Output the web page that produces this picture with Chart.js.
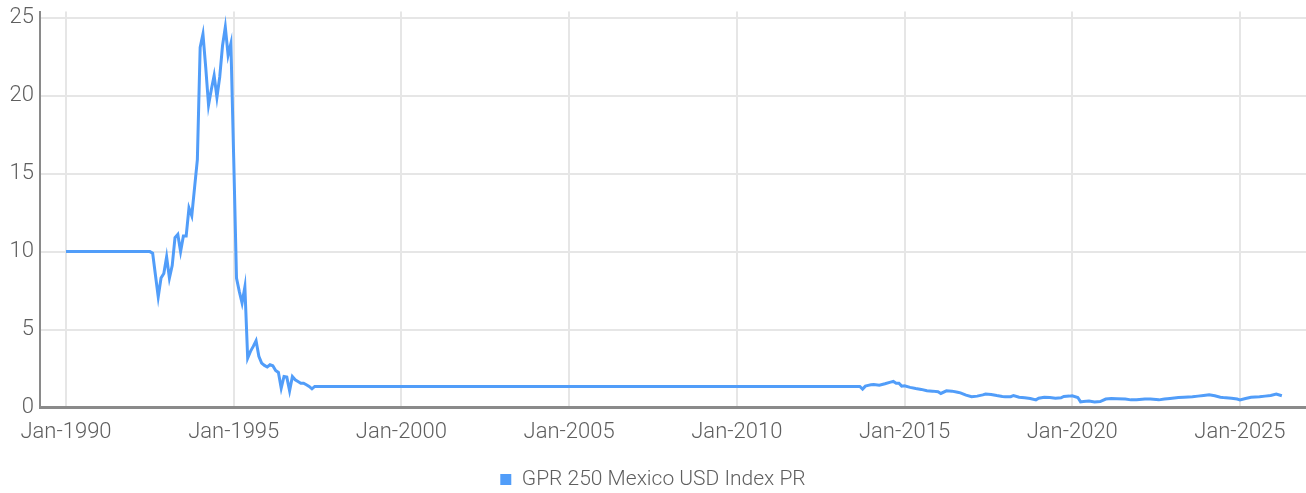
<!DOCTYPE html>
<html lang="en">
<head>
    <meta charset="UTF-8">
    <title>GPR 250 Mexico USD Index PR</title>
    <script src="https://cdn.jsdelivr.net/npm/chart.js"></script>
    <style>
        body {
            margin: 0;
            background: #ffffff;
        }

        #wrap {
            width: 1306px;
            height: 493px;
        }
    </style>
</head>
<body>
    <div id="wrap">
        <canvas id="indexChart"></canvas>
    </div>

    <script>
        // monthly readings, flat stretches given by their end points
        const dates = [
            '1990-01', '1992-07', '1992-08', '1992-09', '1992-10', '1992-11', '1992-12',
            '1993-01', '1993-02', '1993-03', '1993-04', '1993-05', '1993-06', '1993-07', '1993-08', '1993-09', '1993-10', '1993-11', '1993-12',
            '1994-01', '1994-02', '1994-03', '1994-04', '1994-05', '1994-06', '1994-07', '1994-08', '1994-09', '1994-10', '1994-11', '1994-12',
            '1995-01', '1995-02', '1995-03', '1995-04', '1995-05', '1995-06', '1995-07', '1995-08', '1995-09', '1995-10', '1995-11', '1995-12',
            '1996-01', '1996-02', '1996-03', '1996-04', '1996-05', '1996-06', '1996-07', '1996-08', '1996-09', '1996-10', '1996-11', '1996-12',
            '1997-01', '1997-02', '1997-03', '1997-04', '1997-05', '1997-06',
            '2013-09', '2013-10', '2013-11', '2013-12', '2014-01', '2014-02', '2014-04', '2014-06', '2014-08', '2014-09', '2014-10', '2014-11', '2014-12',
            '2015-01', '2015-03', '2015-05', '2015-07', '2015-09', '2015-11',
            '2016-01', '2016-02', '2016-04', '2016-06', '2016-08', '2016-09', '2016-11',
            '2017-01', '2017-03', '2017-05', '2017-06', '2017-08', '2017-10', '2017-12',
            '2018-01', '2018-03', '2018-04', '2018-06', '2018-08', '2018-10', '2018-12',
            '2019-01', '2019-03', '2019-05', '2019-07', '2019-09', '2019-10', '2019-12',
            '2020-01', '2020-03', '2020-04', '2020-05', '2020-07', '2020-09', '2020-11',
            '2021-01', '2021-03', '2021-05', '2021-08', '2021-10', '2021-12',
            '2022-03', '2022-05', '2022-08', '2022-10', '2022-12',
            '2023-03', '2023-05', '2023-08', '2023-10', '2023-12',
            '2024-02', '2024-04', '2024-06', '2024-07', '2024-10', '2024-12',
            '2025-01', '2025-03', '2025-05', '2025-08', '2025-10', '2025-12',
            '2026-02', '2026-04'
        ];
        const values = [
            10, 10, 9.9, 8.5, 7.1, 8.3, 8.6,
            9.66, 8.3, 9.1, 10.9, 11.1, 10.0, 11.0, 11.0, 12.8, 12.3, 14.1, 15.9,
            23.1, 23.95, 21.8, 19.4, 20.4, 21.3, 19.9, 21.2, 23.2, 24.4, 22.6, 23.35,
            16.0, 8.3, 7.45, 6.7, 7.73, 3.17, 3.6, 3.92, 4.28, 3.28, 2.85, 2.7,
            2.6, 2.74, 2.68, 2.38, 2.25, 1.24, 1.99, 1.95, 1.07, 1.99, 1.78, 1.67,
            1.56, 1.56, 1.46, 1.35, 1.2, 1.35,
            1.35, 1.18, 1.37, 1.42, 1.46, 1.48, 1.43, 1.52, 1.63, 1.67, 1.56, 1.56, 1.37,
            1.39, 1.29, 1.22, 1.16, 1.07, 1.05,
            1.01, 0.9, 1.07, 1.05, 0.98, 0.94, 0.79,
            0.69, 0.73, 0.81, 0.86, 0.84, 0.77, 0.71,
            0.69, 0.69, 0.77, 0.66, 0.62, 0.58, 0.49,
            0.6, 0.66, 0.64, 0.6, 0.62, 0.71, 0.73,
            0.75, 0.64, 0.36, 0.38, 0.41, 0.36, 0.38,
            0.54, 0.58, 0.56, 0.54, 0.49, 0.49,
            0.54, 0.54, 0.49, 0.54, 0.58,
            0.64, 0.66, 0.69, 0.73, 0.77,
            0.81, 0.75, 0.66, 0.64, 0.6, 0.54,
            0.49, 0.58, 0.66, 0.69, 0.73, 0.77,
            0.86, 0.75
        ];
        const xTickYears = [1990, 1995, 2000, 2005, 2010, 2015, 2020, 2025];
        const yTicks = [0, 5, 10, 15, 20, 25];
        const seriesName = 'GPR 250 Mexico USD Index PR';

        const lineColor = '#519df9';
        const gridColor = '#e6e6e6';
        const axisColor = '#8a8a8a';
        const textColor = '#5f5f5f';
        const fontFamily = 'Roboto, "Liberation Sans", sans-serif';

        function toYear(d) {
            const parts = d.split('-');
            return Number(parts[0]) + (Number(parts[1]) - 1) / 12;
        }

        const points = dates.map((d, i) => ({ x: toYear(d), y: values[i] }));

        const ctx = document.getElementById('indexChart').getContext('2d');
        const chart = new Chart(ctx, {
            type: 'line',
            data: {
                datasets: [{
                    label: seriesName,
                    data: points,
                    borderColor: lineColor,
                    backgroundColor: lineColor,
                    borderWidth: 3,
                    pointRadius: 0,
                    tension: 0,
                    fill: false
                }]
            },
            options: {
                responsive: true,
                maintainAspectRatio: false,
                animation: false,
                layout: {
                    // negative bottom pushes the legend row down to where the reference has it
                    padding: { top: 5, right: 0, bottom: -7, left: 0 }
                },
                plugins: {
                    tooltip: { enabled: false },
                    legend: {
                        position: 'bottom',
                        labels: {
                            color: textColor,
                            font: { family: fontFamily, size: 21, weight: '300' },
                            boxWidth: 11,
                            boxHeight: 11,
                            padding: 10,
                            generateLabels: (c) => Chart.defaults.plugins.legend.labels.generateLabels(c)
                                .map(l => Object.assign(l, { lineWidth: 0 }))
                        }
                    }
                },
                scales: {
                    x: {
                        type: 'linear',
                        min: 1989.225,
                        max: 2026.97,
                        afterBuildTicks: (scale) => {
                            scale.ticks = xTickYears.map(v => ({ value: v }));
                        },
                        afterFit: (scale) => {
                            scale.height = 51.5;
                        },
                        grid: {
                            color: gridColor,
                            lineWidth: 2,
                            drawTicks: false
                        },
                        border: { color: axisColor, width: 3 },
                        ticks: {
                            color: textColor,
                            padding: 12,
                            maxRotation: 0,
                            autoSkip: false,
                            font: { family: fontFamily, size: 22, weight: '300' },
                            callback: (v) => 'Jan-' + v
                        }
                    },
                    y: {
                        min: 0,
                        max: 25.4,
                        afterBuildTicks: (scale) => {
                            scale.ticks = yTicks.map(v => ({ value: v }));
                        },
                        afterFit: (scale) => {
                            scale.width = 40;
                        },
                        grid: {
                            color: gridColor,
                            lineWidth: 2,
                            drawTicks: false
                        },
                        border: { color: axisColor, width: 2 },
                        ticks: {
                            color: textColor,
                            padding: 6,
                            font: { family: fontFamily, size: 22, weight: '300', lineHeight: 0.5 }
                        }
                    }
                }
            }
        });
    </script>
</body>
</html>
